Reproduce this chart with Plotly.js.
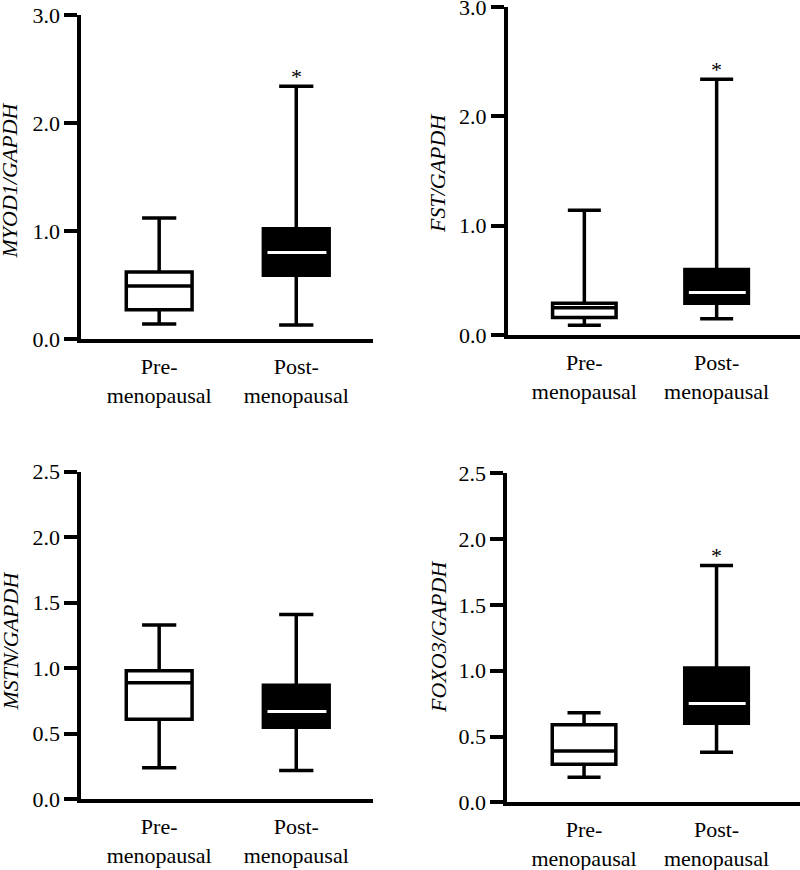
<!DOCTYPE html>
<html>
<head>
<meta charset="utf-8">
<script src="https://cdn.plot.ly/plotly-3.0.1.min.js"></script>
<style>
html,body{margin:0;padding:0;background:#fff;}
#chart{width:800px;height:870px;}
</style>
</head>
<body>
<div id="chart"></div>
<script>
// ---- data ----
const categories = ['Pre-<br>menopausal', 'Post-<br>menopausal'];
const genes = ['MYOD1', 'FST', 'MSTN', 'FOXO3'];
// [lower whisker, Q1, median, Q3, upper whisker]
const myod1Pre  = [0.14, 0.27, 0.49, 0.62, 1.12];
const myod1Post = [0.13, 0.59, 0.80, 1.02, 2.34];
const fstPre    = [0.09, 0.16, 0.25, 0.29, 1.14];
const fstPost   = [0.15, 0.29, 0.39, 0.60, 2.34];
const mstnPre   = [0.24, 0.61, 0.89, 0.98, 1.33];
const mstnPost  = [0.22, 0.55, 0.67, 0.87, 1.41];
const foxo3Pre  = [0.19, 0.29, 0.39, 0.59, 0.68];
const foxo3Post = [0.38, 0.60, 0.75, 1.02, 1.80];
const yMax = [3.0, 3.0, 2.5, 2.5];
const yTickStep = [1.0, 1.0, 0.5, 0.5];
const significant = [true, true, false, true];

// ---- layout constants ----
const FONT = 'Liberation Serif';
const FS = 22;
const LW = 3.5;
const BOXW = 0.48;
const panels = [
  {pre: myod1Pre, post: myod1Post, xd: [0.1013, 0.4663], yd: [0.6103, 0.9828], xr: [-0.57, 1.56], tx: 0.0120, ty: 0.7920},
  {pre: fstPre,   post: fstPost,   xd: [0.6345, 1.0],    yd: [0.6149, 0.9920], xr: [-0.58, 1.63], tx: 0.5475, ty: 0.8000},
  {pre: mstnPre,  post: mstnPost,  xd: [0.1013, 0.4663], yd: [0.0813, 0.4578], xr: [-0.57, 1.56], tx: 0.0120, ty: 0.2632},
  {pre: foxo3Pre, post: foxo3Post, xd: [0.6340, 1.0],    yd: [0.0778, 0.4560], xr: [-0.58, 1.63], tx: 0.5475, ty: 0.2678}
];

const traces = [];
const shapes = [];
const annotations = [];
const layout = {
  width: 800, height: 870,
  margin: {l: 0, r: 0, t: 0, b: 0},
  paper_bgcolor: '#ffffff', plot_bgcolor: '#ffffff',
  showlegend: false,
  font: {family: FONT, size: FS, color: '#000000'}
};

panels.forEach((p, i) => {
  const n = i + 1;
  const xa = 'x' + n, ya = 'y' + n;
  [p.pre, p.post].forEach((g, k) => {
    traces.push({
      type: 'box', xaxis: xa, yaxis: ya,
      x: [k], lowerfence: [g[0]], q1: [g[1]], median: [g[2]], q3: [g[3]], upperfence: [g[4]],
      width: BOXW, whiskerwidth: 0.52, boxpoints: false,
      fillcolor: k === 0 ? '#ffffff' : '#000000',
      line: {color: '#000000', width: LW},
      hoverinfo: 'skip'
    });
  });
  // white median line on the filled box
  shapes.push({
    type: 'line', xref: xa, yref: ya, layer: 'above',
    x0: 1 - BOXW / 2 + 0.03, x1: 1 + BOXW / 2 - 0.02,
    y0: p.post[2], y1: p.post[2],
    line: {color: '#ffffff', width: 3}
  });
  if (significant[i]) {
    annotations.push({
      xref: xa, yref: ya, x: 1, y: p.post[4], text: '*', showarrow: false,
      yanchor: 'bottom', yshift: -5,
      font: {family: FONT, size: FS, color: '#000000'}
    });
  }
  // y-axis title (italic gene ratio), placed like the reference
  annotations.push({
    xref: 'paper', yref: 'paper', x: p.tx, y: p.ty,
    xanchor: 'center', yanchor: 'middle', textangle: -90, showarrow: false,
    text: '<i>' + genes[i] + '/GAPDH</i>',
    font: {family: FONT, size: FS, color: '#000000'}
  });
  const ticks = [];
  for (let v = 0; v <= yMax[i] + 1e-9; v += yTickStep[i]) ticks.push(+v.toFixed(2));
  layout['xaxis' + n] = {
    domain: p.xd, anchor: ya, range: p.xr,
    tickvals: [0, 1], ticktext: categories, ticks: '',
    ticklabelstandoff: 5,
    showline: true, linewidth: LW, linecolor: '#000000',
    showgrid: false, zeroline: false, fixedrange: true,
    tickfont: {family: FONT, size: FS, color: '#000000'}
  };
  layout['yaxis' + n] = {
    domain: p.yd, anchor: xa, range: [0, yMax[i]],
    tickvals: ticks, ticktext: ticks.map(v => v.toFixed(1)),
    ticks: 'outside', ticklen: 13, tickwidth: LW, tickcolor: '#000000',
    ticklabeloverflow: 'allow',
    showline: true, linewidth: LW, linecolor: '#000000',
    showgrid: false, zeroline: false, fixedrange: true,
    tickfont: {family: FONT, size: FS, color: '#000000'}
  };
});
layout.shapes = shapes;
layout.annotations = annotations;

Plotly.newPlot('chart', traces, layout, {displayModeBar: false});
</script>
</body>
</html>
